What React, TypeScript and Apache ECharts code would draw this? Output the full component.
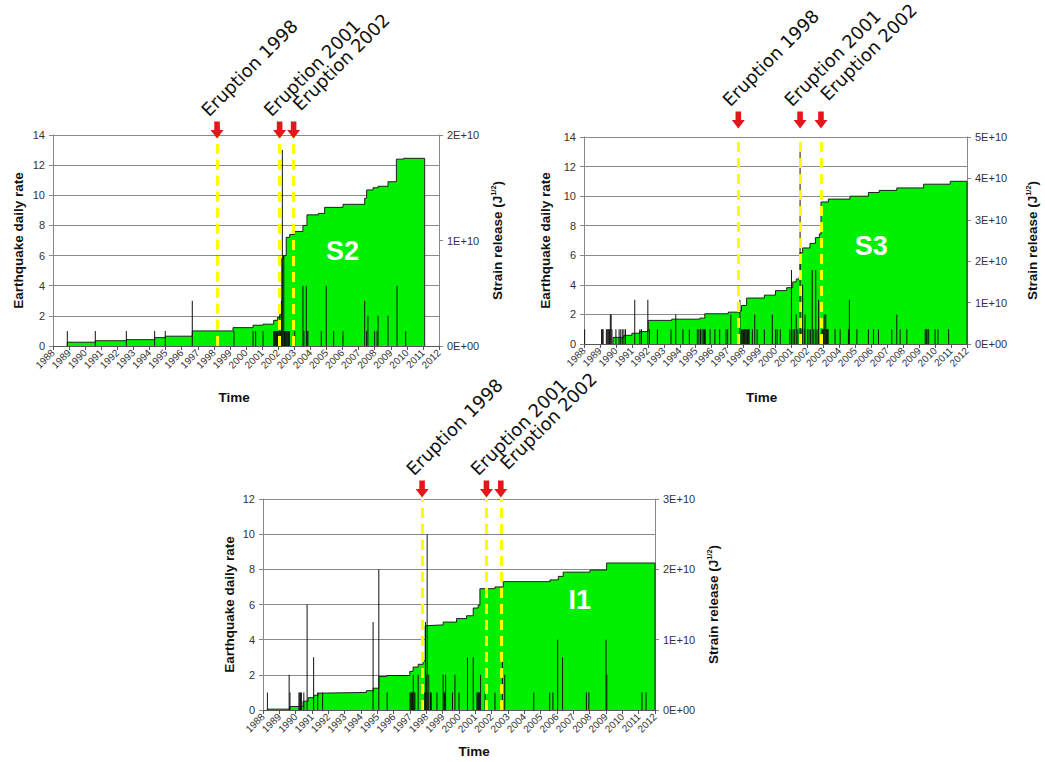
import React, { useEffect, useRef } from "react";
import * as echarts from "echarts";

// ---------- DATA ----------
const ERUPTION_LABELS = ["Eruption 1998", "Eruption 2001", "Eruption 2002"];

// Cumulative strain release (J^1/2), [year, value] step points
const S2_STRAIN: [number, number][] = [
  [1988.89, 0], [1988.89, 0.036e10], [1990.63, 0.05e10], [1992.56, 0.06e10], [1994.32, 0.079e10],
  [1994.98, 0.093e10], [1996.66, 0.143e10], [1999.19, 0.174e10], [2000.44, 0.197e10], [2001.06, 0.207e10],
  [2001.72, 0.243e10], [2001.95, 0.27e10], [2002.1, 0.3e10], [2002.23, 0.83e10], [2002.34, 0.857e10],
  [2002.5, 1.03e10], [2002.72, 1.057e10], [2003.03, 1.086e10], [2003.54, 1.143e10], [2003.79, 1.243e10],
  [2004.5, 1.257e10], [2004.89, 1.314e10], [2006.03, 1.343e10], [2007.38, 1.4e10], [2007.5, 1.479e10],
  [2007.9, 1.5e10], [2008.21, 1.514e10], [2008.83, 1.557e10], [2009.35, 1.771e10], [2009.8, 1.779e10],
  [2011.11, 1.779e10], [2011.11, 0],
];
const S3_STRAIN: [number, number][] = [
  [1989.82, 0], [1989.82, 0.16e10], [1990.5, 0.21e10], [1991.0, 0.26e10], [1991.49, 0.3e10], [1991.97, 0.32e10],
  [1992.02, 0.57e10], [1993.5, 0.6e10], [1995.26, 0.625e10], [1995.57, 0.73e10], [1997.04, 0.77e10],
  [1997.73, 0.8e10], [1997.87, 0.93e10], [1998.19, 1.11e10], [1999.3, 1.18e10], [2000.0, 1.29e10],
  [2000.7, 1.36e10], [2001.08, 1.5e10], [2001.3, 1.57e10], [2001.49, 1.63e10], [2001.54, 2.21e10],
  [2001.7, 2.32e10], [2002.16, 2.43e10], [2002.5, 2.57e10], [2002.75, 2.66e10], [2002.85, 3.43e10],
  [2003.31, 3.5e10], [2004.67, 3.57e10], [2005.82, 3.66e10], [2006.5, 3.71e10], [2007.6, 3.77e10],
  [2009.28, 3.86e10], [2010.95, 3.93e10], [2012, 3.93e10], [2012, 0],
];
const I1_STRAIN: [number, number][] = [
  [1988.31, 0], [1988.31, 0.012e10], [1989.63, 0.05e10], [1990.45, 0.125e10], [1990.76, 0.175e10],
  [1991.1, 0.21e10], [1991.37, 0.24e10], [1991.78, 0.25e10], [1994.33, 0.275e10], [1994.74, 0.31e10],
  [1995.09, 0.475e10], [1995.56, 0.49e10], [1996.99, 0.55e10], [1997.19, 0.61e10], [1997.5, 0.65e10],
  [1997.8, 0.7e10], [1997.93, 1.2e10], [1998.11, 1.21e10], [1999.03, 1.25e10], [1999.85, 1.3e10],
  [2000.46, 1.34e10], [2000.87, 1.45e10], [2001.17, 1.49e10], [2001.28, 1.725e10], [2002.2, 1.75e10],
  [2002.71, 1.825e10], [2005.57, 1.85e10], [2006.08, 1.9e10], [2006.38, 1.96e10], [2008.02, 1.99e10],
  [2009.04, 2.09e10], [2012, 2.09e10], [2012, 0],
];

// Earthquake daily rate spikes, [year, count]
const S2_SPIKES: [number, number][] = [
  [1988.89, 1], [1990.63, 1], [1992.56, 1], [1994.32, 1], [1994.98, 1], [1996.66, 3], [1999.25, 1],
  [2000.44, 1], [2000.6, 1], [2001.06, 1], [2001.72, 1], [2001.76, 1], [2001.8, 1], [2001.85, 1],
  [2001.9, 1], [2001.95, 1], [2002.0, 1], [2002.05, 1], [2002.1, 2], [2002.15, 1], [2002.2, 3],
  [2002.26, 13], [2002.3, 1], [2002.35, 6], [2002.4, 1], [2002.45, 1], [2002.5, 1], [2002.55, 1],
  [2002.6, 1], [2002.65, 1], [2002.7, 1], [2003.03, 1], [2003.54, 4], [2003.6, 1], [2003.75, 4],
  [2003.8, 1], [2003.85, 1], [2004.68, 1], [2004.99, 4], [2005.45, 1], [2006.03, 1], [2007.38, 3],
  [2007.5, 1], [2007.58, 2], [2008.0, 1], [2008.15, 1], [2008.21, 2], [2008.83, 2], [2009.39, 4],
  [2009.93, 1],
];
const S3_SPIKES: [number, number][] = [
  [1988.04, 1], [1989.1, 1], [1989.15, 1], [1989.2, 1], [1989.4, 1], [1989.45, 1], [1989.5, 1],
  [1989.55, 1], [1989.6, 1], [1989.65, 2], [1989.7, 2], [1989.75, 1], [1990.0, 1], [1990.2, 1],
  [1990.3, 1], [1990.4, 1], [1990.5, 1], [1990.6, 1], [1991.18, 3], [1991.5, 1], [1991.6, 1],
  [1992.0, 3], [1992.1, 1], [1992.6, 1], [1993.45, 1], [1993.75, 2], [1994.2, 1], [1994.6, 1],
  [1995.1, 1], [1995.2, 1], [1995.3, 1], [1995.4, 1], [1995.5, 1], [1995.55, 1], [1995.6, 1],
  [1995.9, 1], [1996.2, 1], [1996.5, 1], [1996.9, 1], [1997.0, 1], [1997.2, 2], [1997.77, 3],
  [1997.85, 1], [1997.9, 1], [1997.95, 1], [1998.0, 1], [1998.05, 1], [1998.1, 1], [1998.15, 1],
  [1998.2, 1], [1998.25, 1], [1998.3, 1], [1998.35, 1], [1998.55, 1], [1998.7, 2], [1998.85, 1],
  [1999.3, 1], [1999.8, 2], [2000.0, 1], [2000.1, 1], [2000.3, 1], [2000.9, 1], [2001.0, 5],
  [2001.1, 1], [2001.2, 1], [2001.3, 2], [2001.4, 1], [2001.54, 13], [2001.6, 1], [2001.7, 4],
  [2001.8, 1], [2001.85, 2], [2002.0, 1], [2002.1, 1], [2002.2, 1], [2002.3, 5], [2002.4, 1],
  [2002.52, 5], [2002.6, 1], [2002.7, 3], [2002.9, 1], [2002.95, 1], [2003.0, 1], [2003.05, 2],
  [2003.1, 1], [2003.15, 2], [2003.2, 1], [2003.25, 1], [2003.3, 1], [2003.73, 1], [2004.05, 1],
  [2004.57, 1], [2004.63, 3], [2005.1, 1], [2005.82, 1], [2006.14, 1], [2006.45, 1], [2007.29, 1],
  [2007.6, 2], [2007.81, 1], [2008.23, 1], [2009.38, 1], [2009.45, 1], [2009.5, 1], [2009.6, 1],
  [2010.0, 1], [2010.18, 1], [2010.85, 1],
];
const I1_SPIKES: [number, number][] = [
  [1988.27, 1], [1989.6, 2], [1989.65, 1], [1990.2, 1], [1990.25, 1], [1990.3, 1], [1990.35, 1],
  [1990.5, 1], [1990.7, 6], [1991.1, 3], [1991.35, 1], [1991.65, 1], [1994.74, 5], [1995.09, 8],
  [1995.6, 1], [1997.0, 1], [1997.05, 1], [1997.1, 1], [1997.15, 1], [1997.2, 2], [1997.25, 1],
  [1997.3, 1], [1997.5, 2], [1997.9, 1], [1997.95, 5], [1998.0, 2], [1998.05, 10], [1998.1, 1],
  [1998.15, 2], [1998.25, 1], [1998.3, 1], [1998.65, 1], [1999.03, 2], [1999.08, 1], [1999.12, 1],
  [1999.18, 2], [1999.6, 1], [1999.75, 2], [2000.0, 1], [2000.52, 3], [2000.87, 3], [2001.1, 1],
  [2001.15, 1], [2001.2, 1], [2001.25, 1], [2001.32, 2], [2001.6, 1], [2002.2, 1], [2002.66, 3],
  [2002.8, 2], [2004.58, 1], [2005.55, 1], [2005.75, 1], [2006.04, 4], [2006.34, 3], [2007.8, 1],
  [2007.95, 1], [2009.0, 4], [2009.05, 2], [2011.2, 1], [2011.45, 1],
];

const S2_ERUPTIONS = [1998.2, 2002.09, 2002.96];
const S3_ERUPTIONS = [1997.67, 2001.54, 2002.85];
const I1_ERUPTIONS = [1997.74, 2001.68, 2002.56];

const YEAR_MIN = 1988;
const YEAR_MAX = 2012;

// ---------- LAYOUT / STYLE ----------
const FONT = "'Liberation Sans', Arial, sans-serif";
const ARROW = "path://M4,0 L10,0 L10,8 L14,8 L7,16 L0,8 L4,8 Z";
// label offsets are expressed in the rotated label frame
const LABEL_OFFSETS = [[-5, -4], [-5, -4], [9.8, 2.6]];

type Panel = {
  name: string;
  grid: { left: number; top: number; width: number; height: number };
  leftMax: number;
  rightMax: number;
  strain: [number, number][];
  spikes: [number, number][];
  eruptions: number[];
  namePos: [number, number];
  arrowDy: number;
  leftGap: number;
  rightGap: number;
  timeGap: number;
  timePad: number[];
};

const PANELS: Panel[] = [
  {
    name: "S2", grid: { left: 53, top: 135, width: 386, height: 211 }, leftMax: 14, rightMax: 2e10,
    strain: S2_STRAIN, spikes: S2_SPIKES, eruptions: S2_ERUPTIONS, namePos: [2006.0, 6.3], arrowDy: -5,
    leftGap: 28, rightGap: 50, timeGap: 44, timePad: [0, 24, 0, 0],
  },
  {
    name: "S3", grid: { left: 584, top: 137, width: 383, height: 207 }, leftMax: 14, rightMax: 5e10,
    strain: S3_STRAIN, spikes: S3_SPIKES, eruptions: S3_ERUPTIONS, namePos: [2006.0, 6.6], arrowDy: -17,
    leftGap: 32, rightGap: 57, timeGap: 46, timePad: [0, 28, 0, 0],
  },
  {
    name: "I1", grid: { left: 263, top: 499, width: 392, height: 211 }, leftMax: 12, rightMax: 3e10,
    strain: I1_STRAIN, spikes: I1_SPIKES, eruptions: I1_ERUPTIONS, namePos: [2007.4, 6.25], arrowDy: -10,
    leftGap: 27, rightGap: 50, timeGap: 34, timePad: [0, 0, 0, 30],
  },
];

function buildOption() {
  const grid: any[] = [];
  const xAxis: any[] = [];
  const yAxis: any[] = [];
  const series: any[] = [];

  PANELS.forEach((p, i) => {
    grid.push({ ...p.grid, containLabel: false });
    xAxis.push({
      type: "value", gridIndex: i, min: YEAR_MIN, max: YEAR_MAX, interval: 1,
      name: "Time", nameLocation: "middle", nameGap: p.timeGap,
      nameTextStyle: { fontFamily: FONT, fontWeight: "bold", fontSize: 13.5, color: "#111", padding: p.timePad },
      axisLine: { show: true, onZero: false, lineStyle: { color: "#555", width: 1 } },
      axisTick: { show: true, length: 4, lineStyle: { color: "#555" } },
      axisLabel: {
        rotate: 45, fontSize: 10, fontFamily: FONT, color: "#333", margin: 5,
        showMinLabel: true, showMaxLabel: true, formatter: (v: number) => String(Math.round(v)),
      },
      splitLine: { show: false },
    });
    yAxis.push({
      type: "value", gridIndex: i, position: "left", min: 0, max: p.leftMax, interval: 2,
      name: "Earthquake daily rate", nameLocation: "middle", nameGap: p.leftGap, nameRotate: 90,
      nameTextStyle: { fontFamily: FONT, fontWeight: "bold", fontSize: 13.5, color: "#111" },
      axisLine: { show: true, lineStyle: { color: "#888" } },
      axisTick: { show: true, length: 4, lineStyle: { color: "#888" } },
      axisLabel: { fontSize: 11, fontFamily: FONT, color: "#333", margin: 8 },
      splitLine: { show: true, lineStyle: { color: "#8a8a8a", width: 1 } },
    });
    yAxis.push({
      type: "value", gridIndex: i, position: "right", min: 0, max: p.rightMax, interval: 1e10,
      name: "Strain release (J{sup|1/2})", nameLocation: "middle", nameGap: p.rightGap, nameRotate: 90,
      nameTextStyle: {
        fontFamily: FONT, fontWeight: "bold", fontSize: 13.5, color: "#111",
        rich: { sup: { fontSize: 7.5, fontFamily: FONT, fontWeight: "bold", color: "#111", padding: [0, 0, 8, 0] } },
      },
      axisLine: { show: true, lineStyle: { color: "#888" } },
      axisTick: { show: true, length: 4, lineStyle: { color: "#888" } },
      axisLabel: {
        fontSize: 11, fontFamily: FONT, color: "#333", margin: 8,
        formatter: (v: number) => (v === 0 ? "0E+00" : `${Math.round(v / 1e10)}E+10`),
      },
      splitLine: { show: false },
    });

    series.push({
      type: "line", name: p.name + " strain", xAxisIndex: i, yAxisIndex: 2 * i + 1,
      step: "end", symbol: "none", data: p.strain, z: 2,
      lineStyle: { color: "#1f1f1f", width: 1 },
      areaStyle: { color: "#00f000", opacity: 1 },
    });
    series.push({
      type: "bar", name: p.name + " rate", xAxisIndex: i, yAxisIndex: 2 * i,
      data: p.spikes, barWidth: 1, z: 3, itemStyle: { color: "#111" },
    });
    series.push({
      type: "scatter", name: p.name + " notes", xAxisIndex: i, yAxisIndex: 2 * i, data: [], z: 5,
      markLine: {
        silent: true, symbol: ["none", "none"], label: { show: false },
        lineStyle: { color: "#ffff00", width: 3, type: [10, 6] },
        data: p.eruptions.map((x) => ({ xAxis: x })),
      },
      markPoint: {
        silent: true,
        data: [
          ...p.eruptions.map((x, k) => ({
            coord: [x, p.leftMax], symbol: ARROW, symbolSize: [13, 17], symbolOffset: [0, p.arrowDy],
            itemStyle: { color: "#e3161b" },
            label: {
              show: true, formatter: ERUPTION_LABELS[k], position: "top", distance: 3,
              align: "left", verticalAlign: "bottom", rotate: 45, offset: LABEL_OFFSETS[k],
              fontSize: 18, fontFamily: "'DejaVu Sans', sans-serif", color: "#111",
            },
          })),
          {
            coord: p.namePos, symbol: "circle", symbolSize: 0,
            label: {
              show: true, formatter: p.name, position: "inside", color: "#fff",
              fontSize: 27, fontWeight: "bold", fontFamily: FONT,
            },
          },
        ],
      },
    });
  });

  return { animation: false, backgroundColor: "#fff", grid, xAxis, yAxis, series };
}

export default function App() {
  const ref = useRef<HTMLDivElement>(null);
  useEffect(() => {
    document.body.style.margin = "0";
    if (!ref.current) return;
    const chart = echarts.init(ref.current, undefined, { renderer: "svg" });
    chart.setOption(buildOption() as any);
    return () => chart.dispose();
  }, []);
  return <div ref={ref} style={{ width: 1045, height: 762 }} />;
}
